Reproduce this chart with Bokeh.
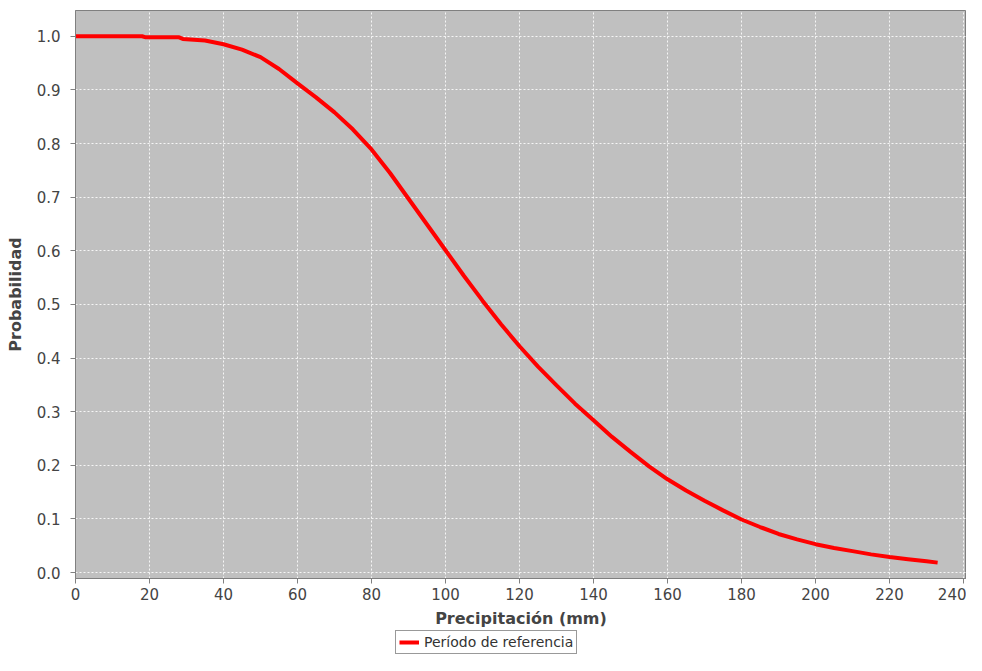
from bokeh.plotting import figure
from bokeh.layouts import column
from bokeh.models import Legend, LegendItem, FixedTicker, Range1d, NumeralTickFormatter, ColumnDataSource
from bokeh.embed import file_html
from bokeh.resources import INLINE

# Data (exceedance probability vs precipitation)
precip_mm = [0, 18, 19, 28, 29, 35, 40, 45, 50, 55, 60, 65, 70, 75, 80, 85, 90, 95,
             100, 105, 110, 115, 120, 125, 130, 135, 140, 145, 150, 155, 160, 165,
             170, 175, 180, 185, 190, 195, 200, 205, 210, 215, 220, 225, 230, 233]
probabilidad = [1.0, 1.0, 0.998, 0.998, 0.995, 0.992, 0.985, 0.975, 0.961, 0.939, 0.912,
                0.886, 0.858, 0.826, 0.789, 0.745, 0.697, 0.649, 0.601, 0.553, 0.507,
                0.463, 0.422, 0.384, 0.349, 0.315, 0.284, 0.253, 0.225, 0.198, 0.174,
                0.153, 0.134, 0.116, 0.099, 0.085, 0.072, 0.062, 0.053, 0.046, 0.040,
                0.034, 0.029, 0.025, 0.021, 0.0186]
series_name = "Período de referencia"
x_ticks = [0, 20, 40, 60, 80, 100, 120, 140, 160, 180, 200, 220, 240]
y_ticks = [0.0, 0.1, 0.2, 0.3, 0.4, 0.5, 0.6, 0.7, 0.8, 0.9, 1.0]
x_label = "Precipitación (mm)"
y_label = "Probabilidad"

FONT = "DejaVu Sans"
TXT = "#444444"
AX = "#808080"
LINE = dict(line_color="#FF0000", line_width=4)

source = ColumnDataSource(data=dict(x=precip_mm, y=probabilidad))

p = figure(width=966, height=630, output_backend="svg", toolbar_location=None,
           x_range=Range1d(0, 240.8), y_range=Range1d(-0.011, 1.048),
           min_border_left=75, min_border_right=0, min_border_top=10,
           min_border_bottom=50)

p.background_fill_color = "#C0C0C0"
p.border_fill_color = "white"
p.outline_line_color = AX
p.outline_line_width = 1

r = p.line("x", "y", source=source, **LINE)

for ax in (p.xaxis[0], p.yaxis[0]):
    ax.axis_line_color = AX
    ax.major_tick_line_color = AX
    ax.minor_tick_line_color = None
    ax.major_tick_in = 0
    ax.major_tick_out = 5
    ax.major_label_text_font = FONT
    ax.major_label_text_font_size = "15px"
    ax.major_label_text_color = TXT
    ax.axis_label_text_font = FONT
    ax.axis_label_text_font_size = "16px"
    ax.axis_label_text_font_style = "bold"
    ax.axis_label_text_color = TXT

p.xaxis[0].ticker = FixedTicker(ticks=x_ticks)
p.yaxis[0].ticker = FixedTicker(ticks=y_ticks)
p.yaxis[0].formatter = NumeralTickFormatter(format="0.0")
p.xaxis[0].axis_label = x_label
p.yaxis[0].axis_label = y_label
p.xaxis[0].major_label_standoff = 4
p.xaxis[0].axis_label_standoff = 6
p.yaxis[0].major_label_standoff = 10
p.yaxis[0].axis_label_standoff = 9

for g in (p.xgrid[0], p.ygrid[0]):
    g.grid_line_color = "white"
    g.grid_line_alpha = 0.85
    g.grid_line_dash = "2 2"
    g.grid_line_width = 1

# Legend strip under the chart (a hidden copy of the series supplies the swatch)
leg = figure(width=966, height=25, output_backend="svg", toolbar_location=None,
             x_range=Range1d(-10, -9), y_range=Range1d(0, 1),
             x_axis_location=None, y_axis_location=None,
             min_border=0, min_border_left=0, min_border_right=0,
             min_border_top=0, min_border_bottom=0)
leg.grid.visible = False
leg.outline_line_color = None
leg.background_fill_color = "white"
r2 = leg.line("x", "y", source=source, **LINE)

legend = Legend(items=[LegendItem(label=series_name, renderers=[r2])],
                location=(320, 1))
legend.label_text_font = FONT
legend.label_text_font_size = "14px"
legend.label_text_color = "#333333"
legend.glyph_width = 20
legend.glyph_height = 16
legend.label_standoff = 5
legend.padding = 3
legend.spacing = 0
legend.margin = 0
legend.border_line_color = "#333333"
legend.border_line_width = 1
legend.background_fill_color = "white"
legend.background_fill_alpha = 1.0
leg.add_layout(legend)

layout = column(p, leg, spacing=0)
open("out.html", "w").write(file_html(layout, INLINE))
